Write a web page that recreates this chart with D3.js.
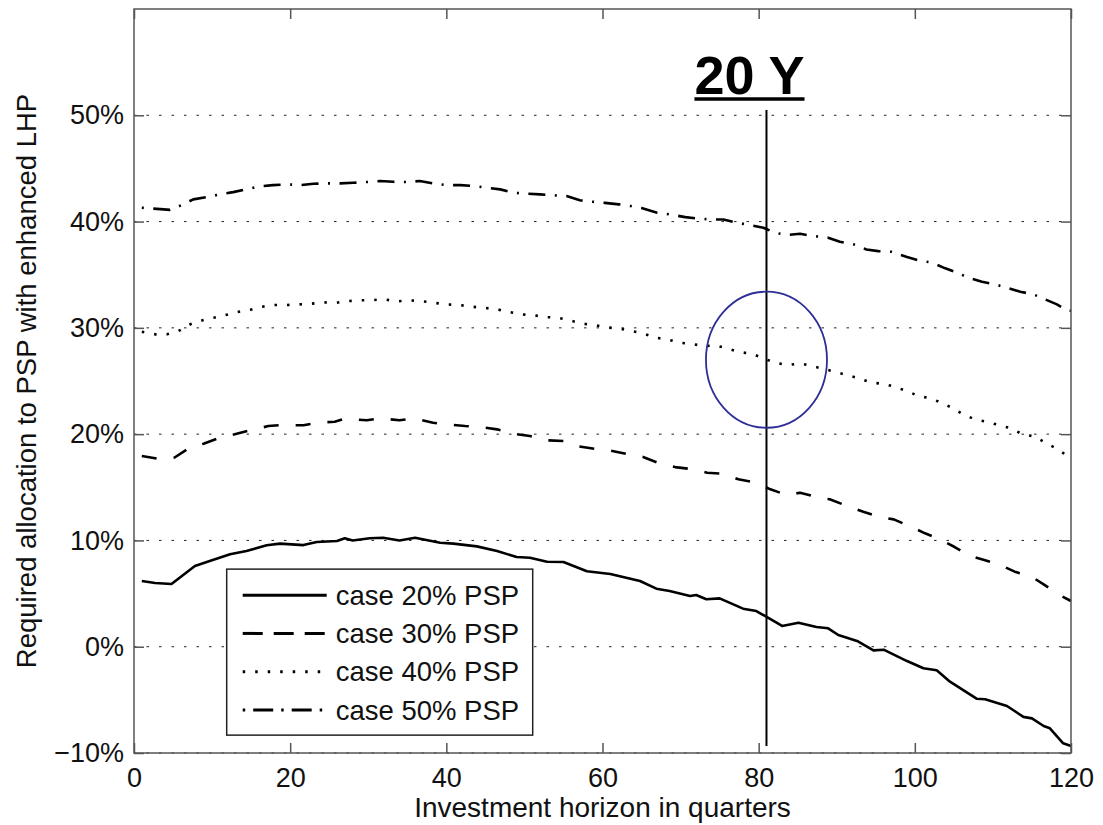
<!DOCTYPE html>
<html>
<head>
<meta charset="utf-8">
<script src="https://cdn.jsdelivr.net/npm/d3@7"></script>
<style>
  html, body { margin: 0; padding: 0; background: #fff; }
  svg { display: block; font-family: "Liberation Sans", Arial, sans-serif; }
</style>
</head>
<body>
<svg id="chart" width="1103" height="825"></svg>
<script>
// Required allocation to PSP (%) by investment horizon (quarters)
const q20 = [1, 2.7, 4.8, 7.8, 9.7, 12.3, 14.4, 17, 18.7, 21.7, 23.4, 26, 27, 28, 30.2, 31.9, 34, 36, 39.2, 40.9, 43.9, 46.5, 49, 50.7, 52.9, 55, 58, 61, 64.8, 66.9, 68.6, 71.2, 72, 73.3, 75, 78, 79.7, 80.8, 83, 85.1, 87.4, 88.9, 90.2, 92.6, 94.7, 96, 99, 101.1, 102.8, 104.5, 107.9, 109, 111.8, 113.9, 115, 116.5, 117.3, 119, 120];
const v20 = [6.18, 6.0, 5.9, 7.6, 8.06, 8.7, 9.0, 9.54, 9.7, 9.56, 9.85, 9.94, 10.2, 10.0, 10.2, 10.25, 10.0, 10.25, 9.78, 9.7, 9.44, 9.0, 8.44, 8.37, 8.0, 7.97, 7.1, 6.84, 6.18, 5.46, 5.24, 4.77, 4.86, 4.46, 4.55, 3.58, 3.36, 2.89, 1.95, 2.26, 1.85, 1.73, 1.1, 0.54, -0.34, -0.28, -1.35, -2.03, -2.22, -3.29, -4.89, -4.95, -5.58, -6.6, -6.74, -7.46, -7.68, -9.09, -9.34];

const q30 = [1, 2.9, 5.2, 7, 8.9, 11, 12.9, 14.9, 17.2, 19.1, 21.7, 23.4, 25.7, 27, 29.8, 31.5, 34, 35.8, 38.3, 40, 42.4, 44.3, 46.5, 48.6, 50.7, 52.9, 55, 56.7, 59.1, 61, 63.3, 65.2, 67.4, 69.3, 71.7, 73.4, 75.5, 77.4, 79.7, 81.5, 83.6, 85.3, 87.8, 89.1, 91.7, 93.4, 95.5, 97.3, 99.6, 101.3, 103.2, 105.1, 107.1, 109, 110.9, 112.8, 115, 116.5, 118.6, 120];
const v30 = [17.94, 17.7, 17.8, 18.66, 19.1, 19.66, 19.98, 20.36, 20.76, 20.86, 20.83, 21.07, 21.17, 21.45, 21.3, 21.49, 21.3, 21.49, 21.07, 20.92, 20.76, 20.67, 20.45, 20.04, 19.82, 19.42, 19.35, 18.88, 18.6, 18.45, 18.1, 17.85, 17.22, 16.9, 16.69, 16.37, 16.28, 15.75, 15.43, 14.81, 14.27, 14.49, 14.02, 13.87, 13.14, 12.7, 12.2, 11.98, 11.26, 10.67, 10.1, 9.38, 8.53, 8.13, 7.69, 7.06, 6.56, 5.87, 4.84, 4.3];

const q40 = [1, 2.7, 4.2, 5.7, 7.2, 8.7, 10.2, 11.7, 13.2, 14.9, 16.4, 18, 19.6, 21.1, 22.7, 24.2, 25.9, 27.4, 28.9, 30.6, 32.1, 33.6, 35.3, 36.8, 38.4, 40, 41.7, 43.2, 44.8, 46.5, 48, 49.5, 51.1, 52.6, 54.3, 55.8, 57.5, 59, 60.5, 62.2, 63.7, 65.2, 66.8, 68.3, 69.9, 71.4, 72.9, 74.5, 76.1, 77.6, 79.2, 80.6, 82.1, 83.8, 85.3, 86.8, 89.8, 91.3, 92.9, 94.4, 96, 97.5, 99, 100.5, 102, 103.4, 104.9, 106.2, 107.7, 109.2, 110.7, 112.3, 113.8, 115.3, 116.7, 118.1, 119.4, 120];
const v40 = [29.63, 29.39, 29.39, 29.7, 30.33, 30.7, 30.95, 31.2, 31.49, 31.7, 31.99, 32.15, 32.15, 32.21, 32.27, 32.4, 32.36, 32.52, 32.59, 32.62, 32.68, 32.49, 32.59, 32.52, 32.36, 32.21, 32.15, 31.99, 31.89, 31.74, 31.51, 31.27, 31.2, 31.02, 30.95, 30.7, 30.39, 30.26, 30.05, 29.92, 29.7, 29.48, 29.07, 28.92, 28.6, 28.5, 28.29, 28.35, 28.03, 27.72, 27.56, 27.13, 26.72, 26.5, 26.66, 26.41, 25.87, 25.56, 25.25, 24.84, 24.74, 24.43, 24.05, 23.58, 23.37, 22.95, 22.43, 21.86, 21.39, 21.17, 20.86, 20.55, 19.98, 19.79, 19.19, 18.66, 18.03, 17.8];

const q50 = [1, 3.8, 4.6, 6.1, 7.6, 9.3, 11, 12.7, 14.4, 16.1, 17.8, 19.6, 21.3, 23, 24.7, 26.4, 28.1, 29.8, 31.5, 33.2, 34.9, 36.6, 38.3, 40, 41.8, 43.5, 45.2, 46.9, 48.6, 50.3, 52, 53.7, 55.4, 57.1, 58.8, 60.3, 62.1, 63.6, 65.2, 67, 68.6, 70.6, 72.1, 73.8, 75.5, 77.2, 78.9, 80.6, 82.1, 83.6, 85.3, 87, 88.9, 90.4, 92.2, 93.8, 95.3, 97, 99, 100.5, 102.2, 103.9, 105.4, 106.9, 108.6, 110.3, 111.8, 113.5, 115.2, 116.7, 118.2, 119.5, 120];
const v50 = [41.3, 41.15, 41.1, 41.55, 42.09, 42.3, 42.56, 42.77, 43.03, 43.31, 43.43, 43.5, 43.43, 43.56, 43.59, 43.59, 43.65, 43.72, 43.81, 43.74, 43.72, 43.81, 43.59, 43.43, 43.43, 43.34, 43.18, 43.03, 42.71, 42.62, 42.56, 42.47, 42.4, 42.0, 41.86, 41.76, 41.62, 41.46, 41.24, 40.83, 40.68, 40.42, 40.3, 40.2, 40.2, 39.89, 39.67, 39.42, 38.95, 38.73, 38.85, 38.64, 38.48, 38.1, 37.85, 37.38, 37.22, 37.16, 36.66, 36.35, 36.13, 35.6, 35.19, 34.71, 34.34, 34.09, 33.77, 33.4, 33.15, 32.68, 32.21, 31.65, 31.6];

const seriesNames = ["case 20% PSP", "case 30% PSP", "case 40% PSP", "case 50% PSP"];
const xTicks = [0, 20, 40, 60, 80, 100, 120];
const yTicks = [-10, 0, 10, 20, 30, 40, 50];
const yTickLabels = ["\u221210%", "0%", "10%", "20%", "30%", "40%", "50%"];
const xDomain = [0, 120];
const yDomain = [-10, 60];

// 20-year marker: horizon in quarters, vertical extent, highlighted ellipse
const markerQuarter = 81;
const markerRange = [-9.35, 50.5];
const markerLabel = "20 Y";
const ellipseCenter = [81, 27];
const ellipseRadii = [7.75, 6.4];

const xLabel = "Investment horizon in quarters";
const yLabel = "Required allocation to PSP with enhanced LHP";

// ---- layout ----
const W = 1103, H = 825;
const margin = { left: 134, top: 9, right: 32, bottom: 72 };
const iw = W - margin.left - margin.right;
const ih = H - margin.top - margin.bottom;

const svg = d3.select("#chart");
const g = svg.append("g").attr("transform", `translate(${margin.left},${margin.top})`);

const x = d3.scaleLinear().domain(xDomain).range([0, iw]);
const y = d3.scaleLinear().domain(yDomain).range([ih, 0]);

// dotted horizontal grid
g.append("g")
  .selectAll("line")
  .data(yTicks)
  .join("line")
  .attr("x1", 0).attr("x2", iw)
  .attr("y1", d => y(d)).attr("y2", d => y(d))
  .attr("stroke", "#222")
  .attr("stroke-width", 1)
  .attr("stroke-dasharray", "2.5,10");

// lines
const lineGen = d3.line().x(d => x(d[0])).y(d => y(d[1]));
const seriesData = [
  d3.zip(q20, v20),
  d3.zip(q30, v30),
  d3.zip(q40, v40),
  d3.zip(q50, v50)
];
const dashes = [null, "15,17", "2.5,10", "2,9.5,17,9.5"];

seriesData.forEach((pts, i) => {
  g.append("path")
    .datum(pts)
    .attr("d", lineGen)
    .attr("fill", "none")
    .attr("stroke", "#000")
    .attr("stroke-width", 2.6)
    .attr("stroke-linejoin", "round")
    .attr("stroke-dasharray", dashes[i]);
});

// axes (ticks pointing inward on all four sides)
const axisColor = "#555";
const bottomAxis = d3.axisBottom(x).tickValues(xTicks).tickSizeInner(-10).tickSizeOuter(0).tickPadding(15).tickFormat(d3.format("d"));
const topAxis = d3.axisTop(x).tickValues(xTicks).tickSizeInner(-10).tickSizeOuter(0).tickFormat("");
const leftAxis = d3.axisLeft(y).tickValues(yTicks).tickSizeInner(-10).tickSizeOuter(0).tickPadding(10)
  .tickFormat((d, i) => yTickLabels[i]);
const rightAxis = d3.axisRight(y).tickValues(yTicks).tickSizeInner(-10).tickSizeOuter(0).tickFormat("");

function styleAxis(sel) {
  sel.select(".domain").remove();
  sel.selectAll(".tick line").attr("stroke", axisColor).attr("stroke-width", 1.5);
  sel.selectAll(".tick text").attr("fill", "#111").style("font-size", "27px")
    .style("font-family", '"Liberation Sans", Arial, sans-serif');
}
g.append("g").attr("transform", `translate(0,${ih})`).call(bottomAxis).call(styleAxis);
g.append("g").call(topAxis).call(styleAxis);
g.append("g").call(leftAxis).call(styleAxis);
g.append("g").attr("transform", `translate(${iw},0)`).call(rightAxis).call(styleAxis);

// frame
g.append("rect")
  .attr("x", 0).attr("y", 0).attr("width", iw).attr("height", ih)
  .attr("fill", "none").attr("stroke", axisColor).attr("stroke-width", 1.5);

// 20-year marker line
g.append("line")
  .attr("x1", x(markerQuarter)).attr("x2", x(markerQuarter))
  .attr("y1", y(markerRange[1])).attr("y2", y(markerRange[0]))
  .attr("stroke", "#000").attr("stroke-width", 2);

// highlight ellipse
g.append("ellipse")
  .attr("cx", x(ellipseCenter[0])).attr("cy", y(ellipseCenter[1]))
  .attr("rx", x(ellipseRadii[0]) - x(0)).attr("ry", y(0) - y(ellipseRadii[1]))
  .attr("fill", "none").attr("stroke", "#2e2e96").attr("stroke-width", 1.8);

// marker label, bold and underlined
const labelX = x(markerQuarter) - 17;
const labelBase = y(markerRange[1]) - 16;
const lbl = g.append("text")
  .attr("x", labelX).attr("y", labelBase)
  .attr("text-anchor", "middle")
  .style("font-size", "54px").style("font-weight", "bold")
  .attr("fill", "#000")
  .text(markerLabel);
const bb = lbl.node().getBBox();
g.append("line")
  .attr("x1", bb.x).attr("x2", bb.x + bb.width)
  .attr("y1", labelBase + 5).attr("y2", labelBase + 5)
  .attr("stroke", "#000").attr("stroke-width", 3.5);

// legend
const legend = g.append("g").attr("transform", `translate(${x(12) - 1},${y(7.3)})`);
legend.append("rect")
  .attr("x", 0).attr("y", 0).attr("width", 306).attr("height", 166)
  .attr("fill", "#fff").attr("stroke", "#222").attr("stroke-width", 1.5);
const legendDashes = [null, "20,11", "2.5,10", "2.5,8,20,8"];
seriesNames.forEach((name, i) => {
  const ly = 26 + i * 38.3;
  legend.append("line")
    .attr("x1", 16).attr("x2", 100).attr("y1", ly).attr("y2", ly)
    .attr("stroke", "#000").attr("stroke-width", 3)
    .attr("stroke-dasharray", legendDashes[i]);
  legend.append("text")
    .attr("x", 109).attr("y", ly).attr("dy", "0.35em")
    .style("font-size", "27.5px").attr("fill", "#111")
    .text(name);
});

// axis titles
svg.append("text")
  .attr("x", margin.left + iw / 2).attr("y", 817)
  .attr("text-anchor", "middle")
  .style("font-size", "28px").attr("fill", "#111")
  .text(xLabel);
svg.append("text")
  .attr("transform", `translate(36,${margin.top + ih / 2}) rotate(-90)`)
  .attr("text-anchor", "middle")
  .style("font-size", "27.5px").attr("fill", "#111")
  .text(yLabel);
</script>
</body>
</html>
